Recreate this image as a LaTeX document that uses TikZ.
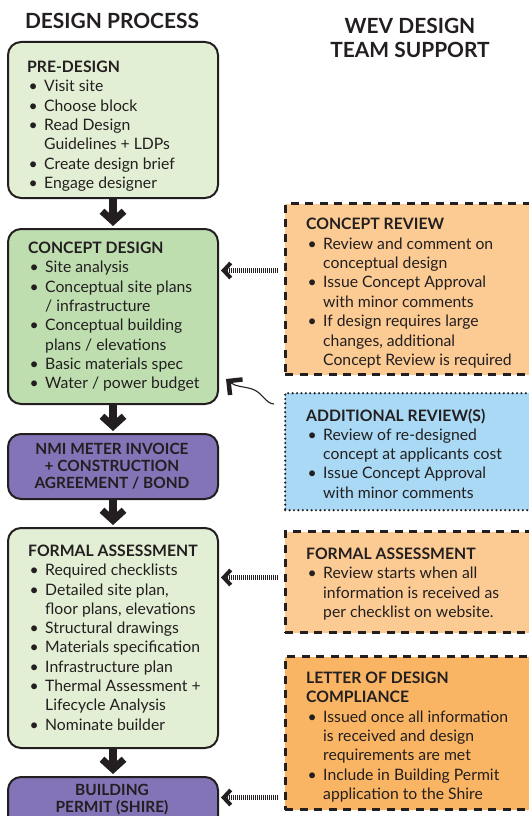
\documentclass[tikz,border=0pt]{standalone}
\usepackage{fontspec}
\setmainfont{Lato}
\usetikzlibrary{arrows.meta,calc}
\definecolor{ink}{HTML}{231F20}
\definecolor{palegreen}{HTML}{E3EFD4}
\definecolor{midgreen}{HTML}{BFDEB0}
\definecolor{purp}{HTML}{8373B7}
\definecolor{lorange}{HTML}{FBCB93}
\definecolor{dorange}{HTML}{F9B563}
\definecolor{lblue}{HTML}{A9D9F4}
\newcommand\bul{\makebox[17bp][l]{\hspace{1.5bp}\textbullet}}
\newcommand\ind{\hspace*{17bp}}
\begin{document}
\begin{tikzpicture}[x=1bp,y=-1bp,
  stepbox/.style={draw=ink, line width=2bp, rounded corners=13bp, anchor=north west, inner sep=0, minimum width=210bp},
  dashbox/.style={draw=ink, line width=3bp, dash pattern=on 8bp off 6.5bp, anchor=north west, inner sep=0, minimum width=262bp},
  dotbox/.style={draw=ink, line width=2.4bp, line cap=round, dash pattern=on 0bp off 4.4bp, anchor=north west, inner sep=0, minimum width=262bp},
  txt/.style={anchor=base west, align=left, inner sep=0, text=ink, font=\fontsize{15.8}{19.4}\selectfont},
  ctxt/.style={anchor=base, align=center, inner sep=0, text=ink, font=\fontsize{15.5}{17.4}\selectfont\bfseries},
  title/.style={anchor=base, align=center, inner sep=0, text=ink, font=\fontsize{21}{25}\selectfont\bfseries},
  downarrow/.style={draw=ink, line width=8bp, -{Straight Barb[length=10bp, width=22bp, line width=7bp]}, shorten >=2bp},
  dotarrow/.style={draw=ink, line width=4.5bp, dash pattern=on 1bp off 1bp, -{Straight Barb[length=7bp, width=15bp, line width=4bp]}, shorten <=6bp, shorten >=2bp},
  wiggle/.style={draw=ink, line width=1.1bp, -{Straight Barb[length=10bp, width=20bp, line width=4.5bp]}}
]
\useasboundingbox (0,0) rectangle (529,816);
\clip (0,0) rectangle (529,816);

% titles (base anchor = last line baseline)
\node[title] (t1) at (112,29) {DESIGN PROCESS};
\node[title] (t2) at (410,58) {WEV DESIGN\\TEAM SUPPORT};

% left column boxes
\node[stepbox, fill=palegreen, minimum height=156bp] (pre) at (7,41) {};
\node[stepbox, fill=midgreen, minimum height=175bp] (cd) at (7,228) {};
\node[stepbox, fill=purp, minimum height=65bp] (nmi) at (7,433) {};
\node[stepbox, fill=palegreen, minimum height=220bp] (fa) at (7,527) {};
\node[stepbox, fill=purp, minimum height=70bp] (bp) at (7,776) {};

\node[txt] (pretxt) at (27,188.4) {\textbf{PRE-DESIGN}\\
\bul Visit site\\
\bul Choose block\\
\bul Read Design\\
\ind Guidelines + LDPs\\
\bul Create design brief\\
\bul Engage designer};

\node[txt] (cdtxt) at (28,388.8) {\textbf{CONCEPT DESIGN}\\
\bul Site analysis\\
\bul Conceptual site plans\\
\ind / infrastructure\\
\bul Conceptual building\\
\ind plans / elevations\\
\bul Basic materials spec\\
\bul Water / power budget};

\node[ctxt] (nmitxt) at (112,488.8) {NMI METER INVOICE\\+ CONSTRUCTION\\AGREEMENT / BOND};

\node[txt, font=\fontsize{15.8}{19.35}\selectfont] (fatxt) at (28,730) {\textbf{FORMAL ASSESSMENT}\\
\bul Required checklists\\
\bul Detailed site plan,\\
\ind floor plans, elevations\\
\bul Structural drawings\\
\bul Materials specification\\
\bul Infrastructure plan\\
\bul Thermal Assessment +\\
\ind Lifecycle Analysis\\
\bul Nominate builder};

\node[ctxt, font=\fontsize{15.5}{17.5}\selectfont\bfseries] (bptxt) at (112,812.5) {BUILDING\\PERMIT (SHIRE)};

% right column boxes
\node[dashbox, fill=lorange, minimum height=171bp] (crev) at (283.5,202) {};
\node[dotbox, fill=lblue, minimum height=117bp] (adr) at (284,392) {};
\node[dashbox, fill=lorange, minimum height=101bp] (frev) at (283.5,530) {};
\node[dashbox, fill=dorange, minimum height=153bp] (ldc) at (283.5,655) {};

\node[txt, font=\fontsize{15.8}{19.55}\selectfont] (crevtxt) at (306,365.9) {\textbf{CONCEPT REVIEW}\\
\bul Review and comment on\\
\ind conceptual design\\
\bul Issue Concept Approval\\
\ind with minor comments\\
\bul If design requires large\\
\ind changes, additional\\
\ind Concept Review is required};

\node[txt, font=\fontsize{15.8}{19.25}\selectfont] (adrtxt) at (306,498) {\textbf{ADDITIONAL REVIEW(S)}\\
\bul Review of re-designed\\
\ind concept at applicants cost\\
\bul Issue Concept Approval\\
\ind with minor comments};

\node[txt, font=\fontsize{15.8}{19.6}\selectfont] (frevtxt) at (306,617.8) {\textbf{FORMAL ASSESSMENT}\\
\bul Review starts when all\\
\ind information is received as\\
\ind per checklist on website.};

\node[txt] (ldctxt) at (306,799.4) {\textbf{LETTER OF DESIGN}\\
\textbf{COMPLIANCE}\\
\bul Issued once all information\\
\ind is received and design\\
\ind requirements are met\\
\bul Include in Building Permit\\
\ind application to the Shire};

% down arrows
\draw[downarrow] (pre.south) -- (cd.north);
\draw[downarrow] (cd.south) -- (nmi.north);
\draw[downarrow] (nmi.south) -- (fa.north);
\draw[downarrow] (fa.south) -- (bp.north);

% dotted arrows
\draw[dotarrow] ([yshift=18.5bp]crev.west) -- ([yshift=18.5bp]crev.west -| cd.east);
\draw[dotarrow] ([yshift=4.5bp]frev.west) -- ([yshift=4.5bp]frev.west -| fa.east);
\draw[dotarrow] ([yshift=-64.5bp]ldc.west) -- ([yshift=-64.5bp]ldc.west -| bp.east);

% wiggle arrow
\coordinate (w0) at ([xshift=-10bp,yshift=-12bp]adr.north west);
\coordinate (w1) at ([xshift=7bp,yshift=26bp]cd.south east);
\draw[wiggle] (w0) .. controls +(-8,0) and +(10,3) .. ++(-22,-15) .. controls +(-10,-3) and +(10,8) .. (w1);
\end{tikzpicture}
\end{document}
